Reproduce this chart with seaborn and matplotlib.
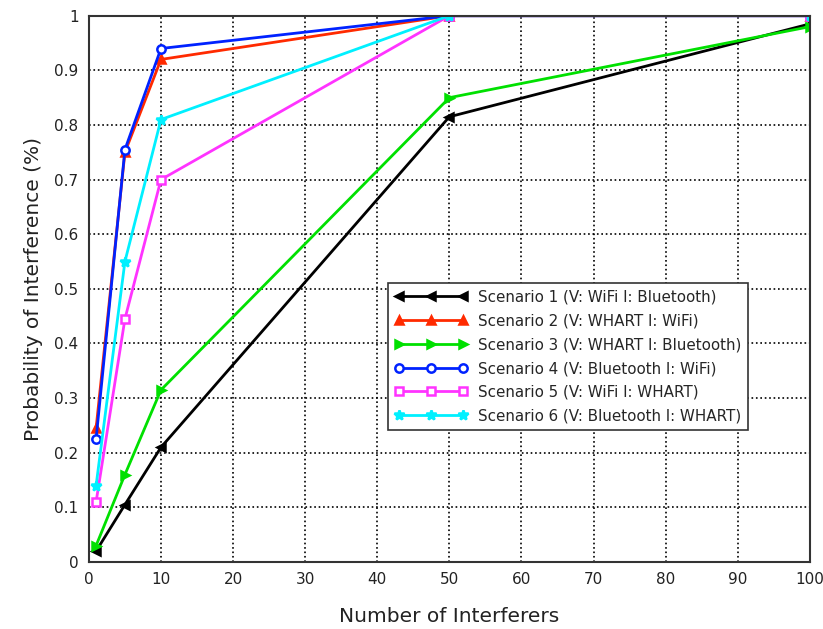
import matplotlib
matplotlib.use("Agg")
import matplotlib.pyplot as plt
import seaborn as sns
import pandas as pd
from matplotlib.ticker import MultipleLocator

interferers = [1, 5, 10, 50, 100]
s1 = [0.02, 0.105, 0.21, 0.815, 0.985]
s2 = [0.245, 0.75, 0.92, 1.0, 1.0]
s3 = [0.03, 0.16, 0.315, 0.85, 0.98]
s4 = [0.225, 0.755, 0.94, 1.0, 1.0]
s5 = [0.11, 0.445, 0.70, 1.0, 1.0]
s6 = [0.14, 0.55, 0.81, 1.0, 1.0]
labels = [
    "Scenario 1 (V: WiFi I: Bluetooth)",
    "Scenario 2 (V: WHART I: WiFi)",
    "Scenario 3 (V: WHART I: Bluetooth)",
    "Scenario 4 (V: Bluetooth I: WiFi)",
    "Scenario 5 (V: WiFi I: WHART)",
    "Scenario 6 (V: Bluetooth I: WHART)",
]
series = [s1, s2, s3, s4, s5, s6]
colors = ["#000000", "#ff2a00", "#00e000", "#0022ff", "#ff33ff", "#00f0ff"]
markers = ["<", "^", ">", "o", "s", "*"]
filled = [True, True, True, False, False, True]

sns.set_style("white")
plt.rcParams["font.family"] = ["DejaVu Sans"]

fig = plt.figure(figsize=(8.23, 6.29), dpi=100)
ax = fig.add_axes([0.108, 0.1065, 0.876, 0.8685])

for lab, ys, c, m, f in zip(labels, series, colors, markers, filled):
    df = pd.DataFrame({"x": interferers, "y": ys})
    kw = dict(markerfacecolor=c) if f else dict(markerfacecolor="white")
    sns.lineplot(data=df, x="x", y="y", ax=ax, color=c, marker=m,
                 markersize=6 if m != "*" else 7, markeredgecolor=c,
                 markeredgewidth=1.8, linewidth=2, label=lab, **kw)

ax.set_xlim(0, 100)
ax.set_ylim(0, 1)
ax.xaxis.set_minor_locator(MultipleLocator(5))
ax.yaxis.set_minor_locator(MultipleLocator(0.05))
ax.set_xticks(range(0, 101, 10))
ax.set_xticklabels([str(v) for v in range(0, 101, 10)])
ax.set_yticks([i / 10 for i in range(11)])
ax.set_yticklabels(["0", "0.1", "0.2", "0.3", "0.4", "0.5", "0.6", "0.7", "0.8", "0.9", "1"])
ax.grid(True, which="major", color="black", linestyle=":", linewidth=1.2)
ax.tick_params(which="major", direction="inout", length=8, width=1.2, labelsize=11, colors="#222222")
ax.tick_params(which="minor", direction="inout", length=5, width=1.2)
for sp in ax.spines.values():
    sp.set_color("#333333")
    sp.set_linewidth(1.5)
ax.set_xlabel("Number of Interferers", fontsize=14.5, color="#222222", labelpad=14)
ax.set_ylabel("Probability of Interference (%)", fontsize=14.5, color="#222222", labelpad=8)

leg = ax.legend(loc="upper left", bbox_to_anchor=(0.415, 0.511), borderaxespad=0,
                numpoints=3, handlelength=4.8, fontsize=10.9, frameon=True,
                fancybox=False, edgecolor="#333333", framealpha=1,
                labelspacing=0.58, borderpad=0.45, handletextpad=0.7)
leg.get_frame().set_linewidth(1.2)

fig.savefig("out.png", dpi=100)
